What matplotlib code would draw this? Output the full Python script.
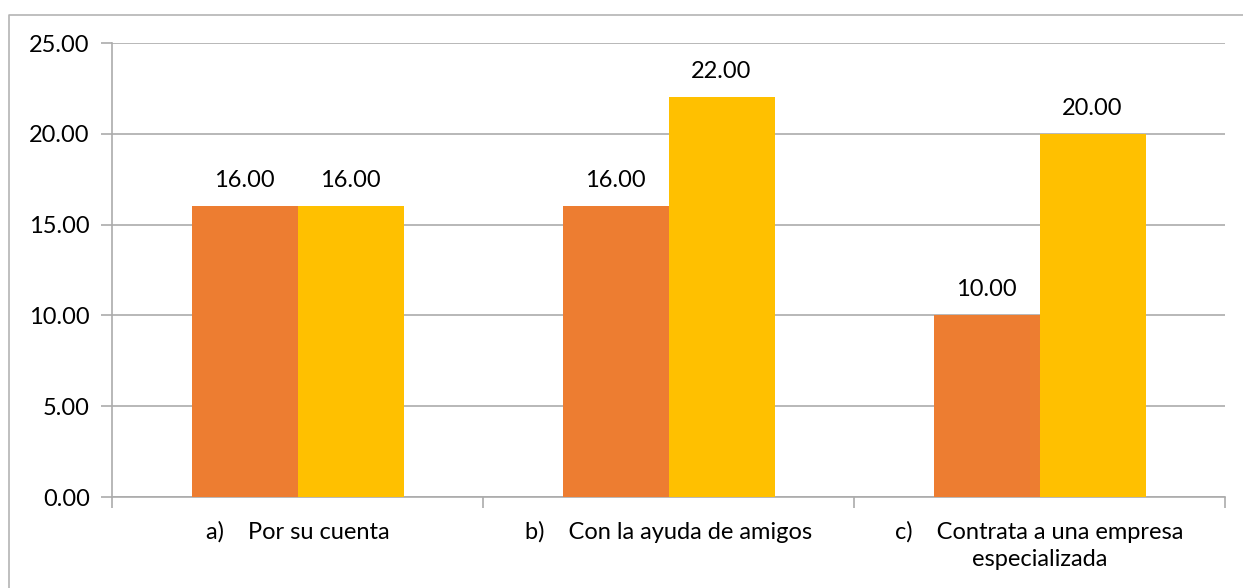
import matplotlib
matplotlib.use("Agg")
import matplotlib.pyplot as plt
import numpy as np
from matplotlib.lines import Line2D

plt.rcParams["font.family"] = ["Lato", "DejaVu Sans"]

categories = [
    "a)    Por su cuenta",
    "b)    Con la ayuda de amigos",
    "c)    Contrata a una empresa\nespecializada",
]
serie_1 = [16.0, 16.0, 10.0]
serie_2 = [16.0, 22.0, 20.0]
y_ticks = [0, 5, 10, 15, 20, 25]

ORANGE = "#ED7D31"
YELLOW = "#FFC000"
GRID = "#ABABAB"
FS = 17

W, H = 1243, 588
fig = plt.figure(figsize=(W / 100, H / 100), dpi=100)
ax = fig.add_axes([112 / W, 1 - 497 / H, (1225 - 112) / W, (497 - 43) / H])

x = np.arange(len(categories))
bw = 1 / 1.75 / 2
b1 = ax.bar(x - bw / 2, serie_1, bw, color=ORANGE, zorder=3)
b2 = ax.bar(x + bw / 2, serie_2, bw, color=YELLOW, zorder=3)
for bars in (b1, b2):
    ax.bar_label(bars, labels=[f"{v:.2f}" for v in bars.datavalues],
                 padding=11, fontsize=FS, color="#000000")

ax.set_xlim(-0.5, len(categories) - 0.5)
ax.set_ylim(0, 25)
ax.set_yticks(y_ticks)
ax.set_yticklabels([f"{v:.2f}" for v in y_ticks], fontsize=FS)
ax.set_xticks(x)
ax.set_xticklabels(categories, fontsize=FS, linespacing=1.38, va="top")
ax.set_xticks(np.arange(len(categories) + 1) - 0.5, minor=True)
ax.tick_params(axis="x", which="major", length=0, pad=17)
ax.tick_params(axis="x", which="minor", length=8, color=GRID, width=1.2)
ax.tick_params(axis="y", length=8, color=GRID, width=1.2, pad=8)

ax.yaxis.grid(True, color=GRID, linewidth=1.2, zorder=0)
ax.set_axisbelow(True)
for side in ("top", "right"):
    ax.spines[side].set_visible(False)
for side in ("left", "bottom"):
    ax.spines[side].set_color(GRID)
    ax.spines[side].set_linewidth(1.2)

# chart area border (only the top and left edges fall inside the image)
fig.add_artist(Line2D([8.5 / W, 8.5 / W, 1.0], [0.0, 1 - 14.5 / H, 1 - 14.5 / H],
                      transform=fig.transFigure, color="#B4B4B4", linewidth=1.2))

fig.savefig("out.png", dpi=100)
